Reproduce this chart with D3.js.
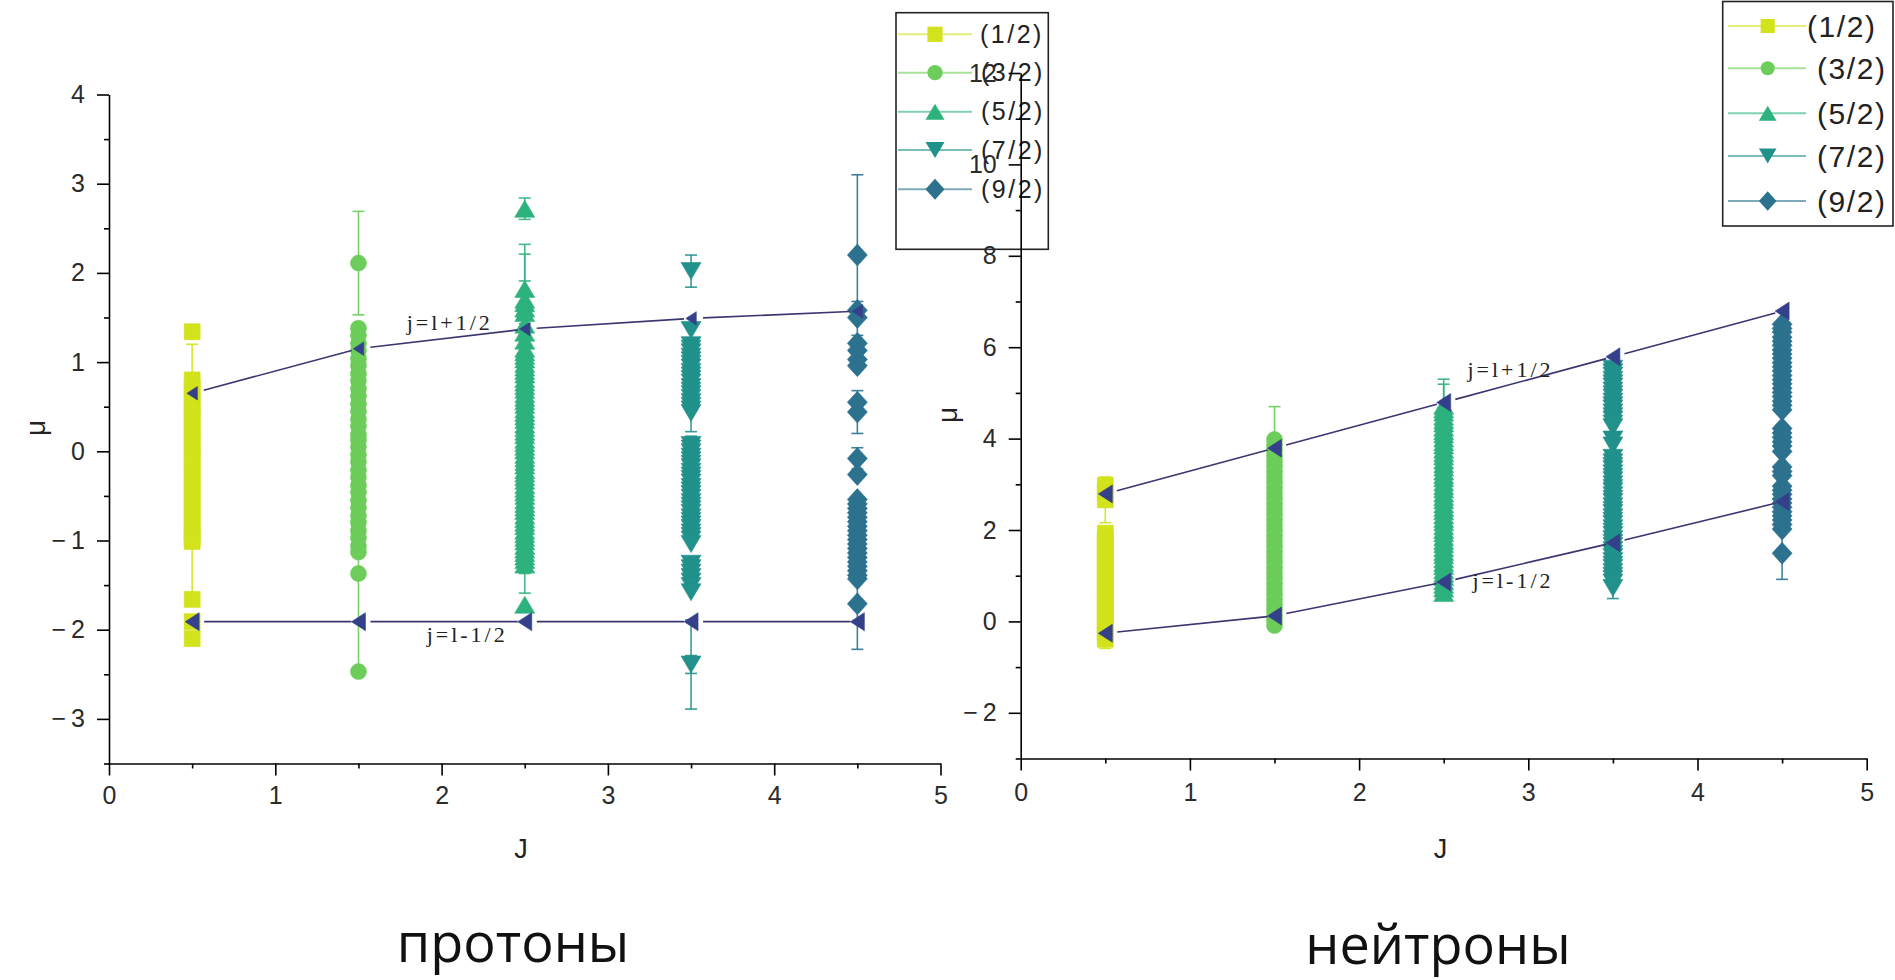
<!DOCTYPE html>
<html>
<head>
<meta charset="utf-8">
<script src="https://cdn.jsdelivr.net/npm/d3@7"></script>
<style>
  html, body { margin: 0; padding: 0; background: #fff; }
  svg { display: block; }
</style>
</head>
<body>
<svg id="fig" width="1895" height="980"></svg>
<script>
// ---------- categories ----------
const seriesNames  = ["(1/2)", "(3/2)", "(5/2)", "(7/2)", "(9/2)"];
const spinJ        = [0.5, 1.5, 2.5, 3.5, 4.5];
const seriesColors = ["#d2e21b", "#6ccd5a", "#2db27d", "#21918c", "#2c728e"];
const seriesShapes = ["square", "circle", "triangleUp", "triangleDown", "diamond"];

// ---------- протоны : magnetic moments per spin group ----------
const pHalf = [1.34, 0.80, 0.71, 0.63, 0.54, 0.46, 0.38, 0.29, 0.21, 0.12, 0.04, -0.05, -0.13, -0.22,
  -0.30, -0.39, -0.47, -0.56, -0.64, -0.73, -0.81, -0.90, -0.97, -1.01, -1.66, -1.91, -2.10];
const pHalfErr = [[0.80, 0.40], [-1.01, 0.58]];

const pThreeHalf = [2.11, 1.38, 1.30, 1.21, 1.13, 1.04, 0.96, 0.87, 0.79, 0.70, 0.62, 0.53, 0.45, 0.36,
  0.28, 0.19, 0.13, 0.05, -0.04, -0.12, -0.21, -0.29, -0.38, -0.46, -0.55, -0.63, -0.72, -0.80, -0.89,
  -0.97, -1.06, -1.13, -1.37, -2.47];
const pThreeHalfErr = [[2.11, 0.58], [-1.37, 1.10]];

const pFiveHalf = [2.72, 1.82, 1.70, 1.66, 1.60, 1.55, 1.42, 1.33, 1.24, 1.15, 1.11, 1.07, 1.03, 0.98,
  0.94, 0.90, 0.86, 0.81, 0.77, 0.73, 0.69, 0.64, 0.60, 0.56, 0.52, 0.47, 0.43, 0.39, 0.35, 0.30, 0.26,
  0.22, 0.18, 0.13, 0.09, 0.05, 0.01, -0.04, -0.08, -0.12, -0.16, -0.21, -0.25, -0.29, -0.33, -0.38,
  -0.42, -0.46, -0.50, -0.55, -0.59, -0.63, -0.67, -0.72, -0.76, -0.80, -0.84, -0.89, -0.93, -0.97,
  -1.01, -1.06, -1.10, -1.14, -1.18, -1.22, -1.27, -1.72];
const pFiveHalfErr = [[2.72, 0.12], [1.82, 0.39], [1.70, 0.62], [1.60, 0.31], [-1.22, 0.15], [-1.27, 0.32]];

const pSevenHalf = [2.02, 1.36, 1.19, 1.15, 1.11, 1.06, 1.02, 0.98, 0.94, 0.89, 0.85, 0.81, 0.77, 0.72,
  0.68, 0.64, 0.60, 0.55, 0.51, 0.47, 0.43, 0.07, 0.03, -0.01, -0.06, -0.10, -0.14, -0.18, -0.23, -0.27,
  -0.31, -0.35, -0.40, -0.44, -0.48, -0.52, -0.57, -0.61, -0.65, -0.69, -0.74, -0.78, -0.82, -0.86,
  -0.91, -0.95, -0.99, -1.04, -1.26, -1.31, -1.36, -1.41, -1.46, -1.51, -1.58, -2.39];
const pSevenHalfErr = [[2.02, 0.18], [0.43, 0.21], [0.07, 0.10], [-2.39, 0.50], [-2.39, 0.10]];

const pNineHalf = [2.20, 1.58, 1.50, 1.21, 1.13, 1.03, 0.96, 0.55, 0.44, -0.08, -0.26, -0.54, -0.59,
  -0.64, -0.69, -0.74, -0.79, -0.84, -0.89, -0.94, -0.99, -1.04, -1.09, -1.14, -1.19, -1.24, -1.29,
  -1.34, -1.39, -1.43, -1.71];
const pNineHalfErr = [[2.20, 0.90], [1.58, 0.10], [0.44, 0.24], [-0.08, 0.12], [-1.71, 0.51]];

const pSchmidtUp  = [0.65, 1.15, 1.37, 1.49, 1.57];
const pSchmidtLow = [-1.91, -1.91, -1.91, -1.91, -1.91];

// ---------- нейтроны : magnetic moments per spin group ----------
const nHalf = [2.98, 2.82, 2.66, 1.93, 1.81, 1.70, 1.58, 1.46, 1.35, 1.23, 1.11, 1.00, 0.88, 0.76,
  0.65, 0.53, 0.41, 0.30, 0.18, 0.06, -0.05, -0.17, -0.29, -0.39];
const nHalfErr = [[2.66, 0.50], [-0.39, 0.20]];

const nThreeHalf = [3.98, 3.86, 3.75, 3.63, 3.51, 3.40, 3.28, 3.16, 3.05, 2.93, 2.81, 2.70, 2.58, 2.46,
  2.35, 2.23, 2.11, 2.00, 1.88, 1.76, 1.65, 1.53, 1.41, 1.30, 1.18, 1.06, 0.95, 0.83, 0.71, 0.60, 0.48,
  0.36, 0.25, 0.13, 0.02, -0.09];
const nThreeHalfErr = [[3.98, 0.72]];

const nFiveHalf = [4.72, 4.64, 4.57, 4.48, 4.40, 4.33, 4.24, 4.16, 4.09, 4.00, 3.92, 3.85, 3.76, 3.68,
  3.61, 3.52, 3.44, 3.37, 3.28, 3.20, 3.13, 3.04, 2.96, 2.89, 2.80, 2.72, 2.65, 2.56, 2.48, 2.41, 2.32,
  2.24, 2.17, 2.08, 2.00, 1.93, 1.84, 1.76, 1.69, 1.60, 1.52, 1.45, 1.36, 1.28, 1.21, 1.12, 1.04, 0.97,
  0.88, 0.80, 0.72, 0.62];
const nFiveHalfErr = [[4.72, 0.58], [4.60, 0.59]];

const nSevenHalf = [5.53, 5.45, 5.38, 5.29, 5.21, 5.14, 5.05, 4.97, 4.90, 4.81, 4.73, 4.66, 4.57, 4.49,
  4.42, 4.33, 4.25, 3.98, 3.85, 3.58, 3.48, 3.40, 3.33, 3.24, 3.16, 3.09, 3.00, 2.92, 2.85, 2.76, 2.68,
  2.61, 2.52, 2.44, 2.37, 2.28, 2.20, 2.13, 2.04, 1.96, 1.89, 1.80, 1.72, 1.65, 1.56, 1.48, 1.41, 1.32,
  1.24, 1.17, 1.08, 1.00, 0.93, 0.85, 0.73];
const nSevenHalfErr = [[0.73, 0.23]];

const nNineHalf = [6.50, 6.41, 6.33, 6.22, 6.13, 6.04, 5.94, 5.85, 5.76, 5.66, 5.57, 5.48, 5.38, 5.29,
  5.20, 5.10, 5.01, 4.92, 4.82, 4.73, 4.63, 4.22, 4.12, 4.03, 3.93, 3.84, 3.72, 3.38, 3.28, 3.19, 2.96,
  2.87, 2.78, 2.68, 2.59, 2.50, 2.40, 2.31, 2.22, 2.12, 2.02, 1.49];
const nNineHalfErr = [[1.49, 0.57]];

const nSchmidtUp  = [2.79, 3.79, 4.79, 5.79, 6.79];
const nSchmidtLow = [-0.26, 0.12, 0.86, 1.72, 2.62];

// ---------- tick values ----------
const xMajorTicks = [0, 1, 2, 3, 4, 5];
const xMinorTicks = [0.5, 1.5, 2.5, 3.5, 4.5];
const pYMajorTicks = [-3, -2, -1, 0, 1, 2, 3, 4];
const pYMinorTicks = [-3.5, -2.5, -1.5, -0.5, 0.5, 1.5, 2.5, 3.5];
const nYMajorTicks = [-2, 0, 2, 4, 6, 8, 10, 12];
const nYMinorTicks = [-3, -1, 1, 3, 5, 7, 9, 11];

// ---------- drawing ----------
const svg = d3.select("#fig");
svg.append("rect").attr("width", 1895).attr("height", 980).attr("fill", "#fff");

const SANS = "'Liberation Sans', Arial, sans-serif";
const SERIF = "'Liberation Serif', 'Times New Roman', serif";
const schmidtLine = "#3b3670";
const schmidtMark = "#34408a";

// Origin-style tick text: a thin gap after the minus sign
const tickFmt = d => d < 0 ? "\u2212\u2009" + Math.abs(d) : String(d);

function markerPath(shape, k = 1) {
  switch (shape) {
    case "square": { const h = 8 * k; return `M${-h},${-h}H${h}V${h}H${-h}Z`; }
    case "circle": { const r = 8 * k; return `M${-r},0A${r},${r} 0 1,0 ${r},0A${r},${r} 0 1,0 ${-r},0Z`; }
    case "triangleUp": { const w = 10 * k, h = 8.5 * k; return `M0,${-h}L${w},${h}L${-w},${h}Z`; }
    case "triangleDown": { const w = 10 * k, h = 8.5 * k; return `M0,${h}L${w},${-h}L${-w},${-h}Z`; }
    case "diamond": { const w = 10 * k, h = 11 * k; return `M0,${-h}L${w},0L0,${h}L${-w},0Z`; }
    case "triangleLeft": { const w = 7 * k, h = 9 * k; return `M${-w},0L${w},${-h}L${w},${h}Z`; }
  }
}

function styleAxis(g) {
  g.selectAll(".domain, .tick line").attr("stroke", "#000").attr("stroke-width", 1.6);
  g.selectAll(".tick text").attr("fill", "#2b2b2b").attr("font-size", 25).attr("font-family", SANS);
  g.attr("font-size", null).attr("font-family", null);
}

function drawPanel(cfg) {
  const { x, y } = cfg;
  const g = svg.append("g");
  const x0 = x.range()[0], y0 = y.range()[0];

  // minor ticks
  g.append("g").attr("transform", `translate(0,${y0})`)
    .call(d3.axisBottom(x).tickValues(xMinorTicks).tickSize(5).tickSizeOuter(0).tickFormat(""))
    .call(styleAxis).select(".domain").remove();
  g.append("g").attr("transform", `translate(${x0},0)`)
    .call(d3.axisLeft(y).tickValues(cfg.yMinor).tickSize(5).tickSizeOuter(0).tickFormat(""))
    .call(styleAxis).select(".domain").remove();

  // major axes
  g.append("g").attr("transform", `translate(0,${y0})`)
    .call(d3.axisBottom(x).tickValues(xMajorTicks).tickSize(12).tickPadding(cfg.xPad).tickSizeOuter(0).tickFormat(tickFmt))
    .call(styleAxis);
  g.append("g").attr("transform", `translate(${x0},0)`)
    .call(d3.axisLeft(y).tickValues(cfg.yMajor).tickSize(12).tickPadding(12).tickSizeOuter(0).tickFormat(tickFmt))
    .call(styleAxis);

  // axis titles
  g.append("text").attr("x", cfg.jLabel[0]).attr("y", cfg.jLabel[1])
    .attr("text-anchor", "middle").attr("font-family", SANS).attr("font-size", 27).attr("fill", "#222").text("J");
  g.append("text").attr("transform", `translate(${cfg.muLabel[0]},${cfg.muLabel[1]}) rotate(-90)`)
    .attr("text-anchor", "middle").attr("dy", "0.35em").attr("font-family", SANS).attr("font-size", 28)
    .attr("fill", "#222").text("μ");

  // series: error bars then markers
  cfg.series.forEach((vals, i) => {
    const cx = x(spinJ[i]);
    const col = seriesColors[i];
    const eg = g.append("g").attr("stroke", col).attr("stroke-width", 1.6).attr("stroke-opacity", 0.9);
    cfg.errors[i].forEach(([v, e]) => {
      eg.append("line").attr("x1", cx).attr("x2", cx).attr("y1", y(v + e)).attr("y2", y(v - e));
      [v + e, v - e].forEach(c => eg.append("line")
        .attr("x1", cx - 6).attr("x2", cx + 6).attr("y1", y(c)).attr("y2", y(c)));
    });
    g.append("g").selectAll("path").data(vals).join("path")
      .attr("transform", d => `translate(${cx},${y(d)})`)
      .attr("d", markerPath(seriesShapes[i]))
      .attr("fill", col).attr("stroke", col).attr("stroke-width", 0.6);
  });

  // Schmidt lines
  [[cfg.schmidtUp, cfg.upMarkK], [cfg.schmidtLow, 1]].forEach(([vals, mk]) => {
    const pts = vals.map((v, i) => [x(spinJ[i]), y(v)]);
    const lg = g.append("g").attr("stroke", schmidtLine).attr("stroke-width", 1.6);
    for (let i = 0; i < pts.length - 1; i++) {
      const [ax, ay] = pts[i], [bx, by] = pts[i + 1];
      const L = Math.hypot(bx - ax, by - ay), ux = (bx - ax) / L, uy = (by - ay) / L;
      lg.append("line").attr("x1", ax + ux * 12).attr("y1", ay + uy * 12)
        .attr("x2", bx - ux * 7).attr("y2", by - uy * 7);
    }
    g.append("g").selectAll("path").data(pts).join("path")
      .attr("transform", d => `translate(${d[0]},${d[1]})`)
      .attr("d", markerPath("triangleLeft", mk))
      .attr("fill", schmidtMark).attr("stroke", schmidtMark).attr("stroke-width", 0.6);
  });

  // line labels
  cfg.notes.forEach(n => {
    g.append("text").attr("x", x(n.J)).attr("y", y(n.mu))
      .attr("font-family", SERIF).attr("font-size", 22).attr("letter-spacing", 3)
      .attr("fill", "#222").text(n.text);
  });
}

function drawLegend(cfg) {
  const g = svg.append("g");
  g.append("rect").attr("x", cfg.box[0]).attr("y", cfg.box[1])
    .attr("width", cfg.box[2] - cfg.box[0]).attr("height", cfg.box[3] - cfg.box[1])
    .attr("fill", "#fff").attr("stroke", "#222").attr("stroke-width", 1.6);
  seriesNames.forEach((name, i) => {
    const ry = cfg.rows[i];
    g.append("line").attr("x1", cfg.line[0]).attr("x2", cfg.line[1]).attr("y1", ry).attr("y2", ry)
      .attr("stroke", seriesColors[i]).attr("stroke-opacity", 0.6).attr("stroke-width", 2);
    g.append("path").attr("transform", `translate(${cfg.mark},${ry})`)
      .attr("d", markerPath(seriesShapes[i], cfg.k)).attr("fill", seriesColors[i]);
    g.append("text").attr("x", cfg.textX[i]).attr("y", ry).attr("dy", "0.35em")
      .attr("font-family", SANS).attr("font-size", cfg.font).attr("letter-spacing", cfg.spacing)
      .attr("fill", "#222").text(name);
  });
}

const xP = d3.scaleLinear().domain([0, 5]).range([109, 940.5]);
const yP = d3.scaleLinear().domain([-3.5, 4]).range([763.5, 94.5]);
const xN = d3.scaleLinear().domain([0, 5]).range([1020.7, 1866.7]);
const yN = d3.scaleLinear().domain([-3, 12]).range([758.5, 73]);

drawPanel({
  x: xP, y: yP, yMajor: pYMajorTicks, yMinor: pYMinorTicks, xPad: 11,
  jLabel: [521, 858], muLabel: [35, 428], upMarkK: 0.75,
  series: [pHalf, pThreeHalf, pFiveHalf, pSevenHalf, pNineHalf],
  errors: [pHalfErr, pThreeHalfErr, pFiveHalfErr, pSevenHalfErr, pNineHalfErr],
  schmidtUp: pSchmidtUp, schmidtLow: pSchmidtLow,
  notes: [{ text: "j=l+1/2", J: 1.79, mu: 1.36 }, { text: "j=l-1/2", J: 1.91, mu: -2.14 }]
});
drawLegend({
  box: [896, 12.7, 1048.3, 249.3], rows: [34.3, 72.7, 111.7, 150, 189.3],
  line: [898, 972], mark: 935, k: 0.95, textX: [980, 981, 981, 981, 981], font: 25, spacing: 2.5
});

drawPanel({
  x: xN, y: yN, yMajor: nYMajorTicks, yMinor: nYMinorTicks, xPad: 13,
  jLabel: [1440.5, 858], muLabel: [947, 415], upMarkK: 1,
  series: [nHalf, nThreeHalf, nFiveHalf, nSevenHalf, nNineHalf],
  errors: [nHalfErr, nThreeHalfErr, nFiveHalfErr, nSevenHalfErr, nNineHalfErr],
  schmidtUp: nSchmidtUp, schmidtLow: nSchmidtLow,
  notes: [{ text: "j=l+1/2", J: 2.64, mu: 5.35 }, { text: "j=l-1/2", J: 2.67, mu: 0.72 }]
});
drawLegend({
  box: [1722.7, 1.5, 1893, 226], rows: [26, 68.3, 113.3, 156, 201],
  line: [1728, 1806], mark: 1767.7, k: 0.88, textX: [1807, 1817, 1817, 1817, 1817], font: 30, spacing: 1.6
});

// captions
svg.append("text").attr("x", 513).attr("y", 962).attr("text-anchor", "middle")
  .attr("font-family", "'Open Sans', sans-serif").attr("font-size", 54).attr("fill", "#111").text("протоны");
svg.append("text").attr("x", 1438).attr("y", 964).attr("text-anchor", "middle")
  .attr("font-family", "'Open Sans', sans-serif").attr("font-size", 54).attr("fill", "#111").text("нейтроны");
</script>
</body>
</html>
